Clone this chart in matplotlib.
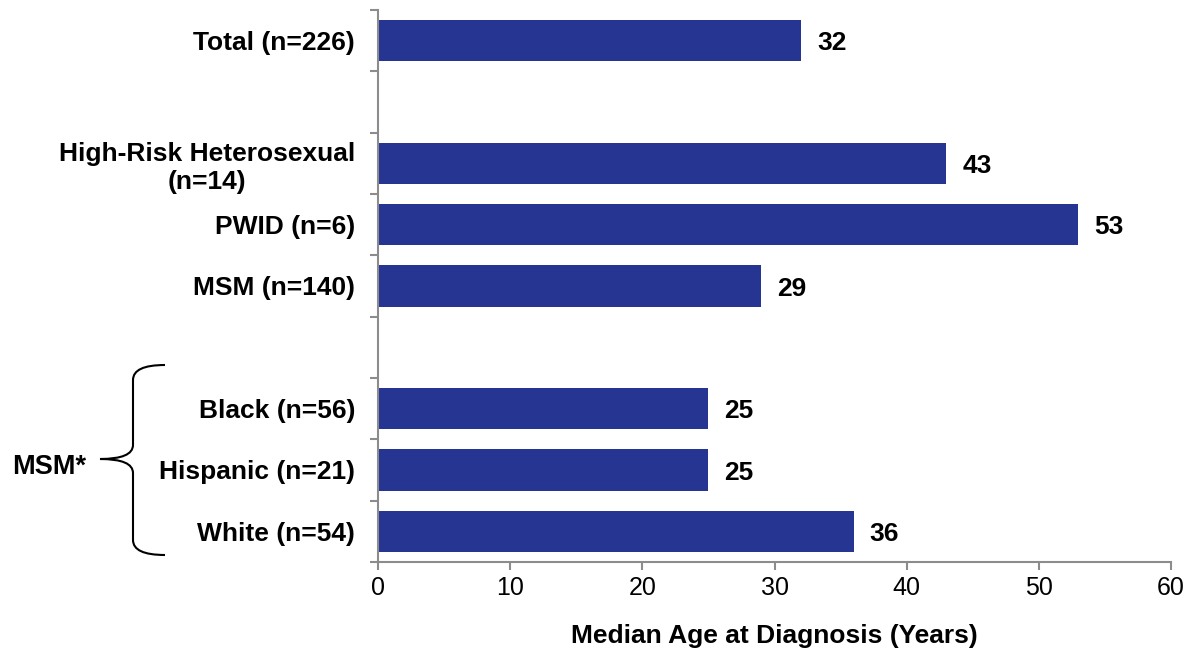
import numpy as np
import matplotlib.pyplot as plt
from matplotlib.path import Path
from matplotlib.patches import PathPatch

# chart data (blank slots are gaps between groups)
categories = ["Total (n=226)", "", "High-Risk Heterosexual\n(n=14)", "PWID (n=6)",
              "MSM (n=140)", "", "Black (n=56)", "Hispanic (n=21)", "White (n=54)"]
median_age = [32, np.nan, 43, 53, 29, np.nan, 25, 25, 36]
x_ticks = [0, 10, 20, 30, 40, 50, 60]

plt.rcParams['font.family'] = ['Liberation Sans', 'DejaVu Sans']

W, H = 1191, 648
fig = plt.figure(figsize=(W / 100, H / 100), dpi=100)
ax = fig.add_axes([378 / W, 1 - 562 / H, (1171 - 378) / W, (562 - 10) / H])

ypos = np.arange(len(categories))
bar_color = '#263592'
ax.barh(ypos, np.nan_to_num(median_age), height=0.67, color=bar_color)

for y, v in zip(ypos, median_age):
    if np.isnan(v):
        continue
    ax.annotate(f"{v:.0f}", (v, y), xytext=(11.5, -2), textcoords='offset points',
                ha='left', va='center', fontsize=19, fontweight='bold')

ax.set_xlim(0, 60)
ax.set_ylim(len(categories) - 0.5, -0.5)
ax.set_xticks(x_ticks)
ax.set_yticks(ypos)
ax.set_yticklabels(categories, fontsize=19, fontweight='bold', multialignment='center')
ax.set_yticks(np.arange(-0.5, len(categories) + 0.5, 1), minor=True)
ax.tick_params(axis='y', which='major', length=0, pad=16.5)
ax.tick_params(axis='y', which='minor', length=6, width=1.5, color='#8c8c8c', direction='out')
ax.tick_params(axis='x', which='major', length=6, width=1.5, color='#8c8c8c',
               labelsize=18, pad=4)

for side in ['top', 'right']:
    ax.spines[side].set_visible(False)
for side in ['left', 'bottom']:
    ax.spines[side].set_color('#8c8c8c')
    ax.spines[side].set_linewidth(1.5)

ax.set_xlabel("Median Age at Diagnosis (Years)", fontsize=19, fontweight='bold', labelpad=17)


# brace for the MSM race/ethnicity group, drawn in pixel coords
def px(x, y):
    return (x / W, 1 - y / H)

verts = [px(165, 365), px(133, 365), px(133, 380),
         px(133, 445),
         px(133, 459), px(100, 459),
         px(133, 459), px(133, 473),
         px(133, 540),
         px(133, 555), px(165, 555)]
codes = [Path.MOVETO, Path.CURVE3, Path.CURVE3,
         Path.LINETO,
         Path.CURVE3, Path.CURVE3,
         Path.CURVE3, Path.CURVE3,
         Path.LINETO,
         Path.CURVE3, Path.CURVE3]
brace = PathPatch(Path(verts, codes), transform=fig.transFigure, fill=False,
                  edgecolor='black', linewidth=1.5)
fig.patches.append(brace)
fig.text(12 / W, 1 - 467 / H, "MSM*", fontsize=19.5, fontweight='bold', va='center', ha='left')

fig.savefig("out.png", dpi=100)
